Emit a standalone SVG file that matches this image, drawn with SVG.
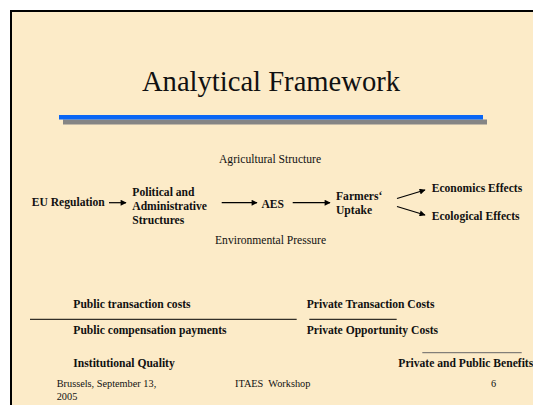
<svg xmlns="http://www.w3.org/2000/svg" width="533" height="405" viewBox="0 0 533 405">
<style>
.t{font-family:"Liberation Serif","Times New Roman",serif;fill:#111}
.b{font-weight:bold;font-size:11.6px}
.r{font-size:11.6px}
.f{font-size:10.3px}
.c{stroke:#000;stroke-width:1.2;fill:none}
</style>
<defs>
<marker id="ah" viewBox="0 0 10 10" refX="9" refY="5" markerWidth="7" markerHeight="6" markerUnits="userSpaceOnUse" orient="auto">
<path d="M0,0 L10,5 L0,10 Z" fill="#000"/>
</marker>
</defs>
<rect x="0" y="0" width="533" height="405" fill="#fff"/>
<rect x="11" y="11" width="540" height="420" fill="#FCEBC8" stroke="#000" stroke-width="2"/>
<text class="t" x="271" y="91" font-size="28.6" text-anchor="middle">Analytical Framework</text>
<rect x="63" y="119.5" width="424" height="5" fill="#858585"/>
<rect x="59" y="115" width="424" height="4.5" fill="#0A66F5"/>
<g id="agri"><text class="t r" x="219" y="163">Agricultural Structure</text></g>
<g id="env"><text class="t r" x="215" y="244">Environmental Pressure</text></g>
<g id="eu"><text class="t b" x="31.7" y="206">EU Regulation</text></g>
<g id="pol"><text class="t b" x="132.3" y="196">Political and</text><text class="t b" x="132.3" y="210">Administrative</text><text class="t b" x="132.3" y="223.5">Structures</text></g>
<g id="aes"><text class="t b" x="261.5" y="207.5">AES</text></g>
<g id="farm"><text class="t b" x="336" y="199.5">Farmers‘</text><text class="t b" x="336" y="213.5">Uptake</text></g>
<g id="eco"><text class="t b" x="431.7" y="191.7">Economics Effects</text></g>
<g id="ecol"><text class="t b" x="431.7" y="220">Ecological Effects</text></g>
<g id="connectors">
<line class="c" x1="109" y1="202.7" x2="126" y2="202.7" marker-end="url(#ah)"/>
<line class="c" x1="221.7" y1="202.7" x2="257" y2="202.7" marker-end="url(#ah)"/>
<line class="c" x1="292.7" y1="202.7" x2="330" y2="202.7" marker-end="url(#ah)"/>
<line class="c" x1="397" y1="198.5" x2="425" y2="190" marker-end="url(#ah)"/>
<line class="c" x1="397" y1="206.5" x2="425" y2="215" marker-end="url(#ah)"/>
</g>
<g id="bottom">
<text class="t b" x="73.3" y="308.3">Public transaction costs</text>
<text class="t b" x="73.3" y="334">Public compensation payments</text>
<text class="t b" x="73.3" y="367.3">Institutional Quality</text>
<text class="t b" x="306.7" y="308.3">Private Transaction Costs</text>
<text class="t b" x="306.7" y="333.5">Private Opportunity Costs</text>
<text class="t b" x="398.3" y="367">Private and Public Benefits</text>
<line x1="30" y1="319.3" x2="296.7" y2="319.3" stroke="#000" stroke-width="1"/>
<line x1="309.3" y1="319.3" x2="396.7" y2="319.3" stroke="#000" stroke-width="1"/>
<line x1="422.3" y1="352.7" x2="521.7" y2="352.7" stroke="#666" stroke-width="1"/>
</g>
<g id="footer">
<text class="t f" x="56.7" y="387">Brussels, September 13,</text>
<text class="t f" x="56.7" y="399.5">2005</text>
<text class="t f" x="235" y="387" xml:space="preserve">ITAES  Workshop</text>
<text class="t f" x="491" y="387">6</text>
</g>
</svg>
